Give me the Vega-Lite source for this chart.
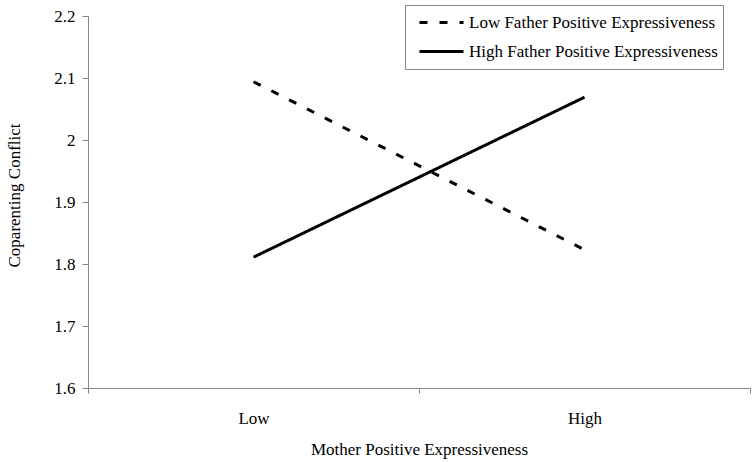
{
  "$schema": "https://vega.github.io/schema/vega-lite/v6.json",
  "width": 662,
  "height": 372,
  "autosize": {"type": "none"},
  "padding": {"left": 88, "top": 16, "right": 2, "bottom": 74},
  "background": "white",
  "config": {
    "view": {"stroke": null},
    "font": "Liberation Serif"
  },
  "data": {
    "values": [
      {"mother": "Low", "father": "Low Father Positive Expressiveness", "conflict": 2.094},
      {"mother": "High", "father": "Low Father Positive Expressiveness", "conflict": 1.823},
      {"mother": "Low", "father": "High Father Positive Expressiveness", "conflict": 1.811},
      {"mother": "High", "father": "High Father Positive Expressiveness", "conflict": 2.069}
    ]
  },
  "mark": {"type": "line", "color": "black", "strokeWidth": 3, "strokeCap": "butt"},
  "encoding": {
    "x": {
      "field": "mother",
      "type": "nominal",
      "sort": ["Low", "High"],
      "bandPosition": 0.5,
      "scale": {"type": "band", "paddingInner": 0, "paddingOuter": 0},
      "axis": {
        "title": "Mother Positive Expressiveness",
        "labelAngle": 0,
        "tickBand": "extent",
        "grid": false,
        "domainColor": "#868686",
        "tickColor": "#868686",
        "tickSize": 5,
        "labelFont": "Liberation Serif",
        "labelFontSize": 17,
        "labelColor": "black",
        "labelBaseline": "alphabetic",
        "labelPadding": 30,
        "titleFont": "Liberation Serif",
        "titleFontSize": 17,
        "titleFontWeight": "normal",
        "titleColor": "black",
        "titleBaseline": "alphabetic",
        "titleY": 66
      }
    },
    "y": {
      "field": "conflict",
      "type": "quantitative",
      "scale": {"domain": [1.6, 2.2], "nice": false, "zero": false},
      "axis": {
        "title": "Coparenting Conflict",
        "values": [1.6, 1.7, 1.8, 1.9, 2.0, 2.1, 2.2],
        "format": "~g",
        "grid": false,
        "domainColor": "#868686",
        "tickColor": "#868686",
        "tickSize": 6,
        "labelPadding": 7,
        "labelFont": "Liberation Serif",
        "labelFontSize": 17,
        "labelColor": "black",
        "titleFont": "Liberation Serif",
        "titleFontSize": 17,
        "titleFontWeight": "normal",
        "titleColor": "black",
        "titleBaseline": "middle",
        "titleX": -74,
        "titleY": 179
      }
    },
    "strokeDash": {
      "field": "father",
      "type": "nominal",
      "scale": {
        "domain": ["Low Father Positive Expressiveness", "High Father Positive Expressiveness"],
        "range": [[8, 12], [1, 0]]
      },
      "legend": {
        "title": null,
        "orient": "none",
        "legendX": 317,
        "legendY": -11,
        "fillColor": "white",
        "strokeColor": "#868686",
        "padding": 5,
        "symbolType": "stroke",
        "symbolSize": 1936,
        "symbolStrokeWidth": 3,
        "symbolStrokeColor": "black",
        "symbolOffset": 8,
        "clipHeight": 25,
        "rowPadding": 4,
        "labelOffset": 4,
        "labelFont": "Liberation Serif",
        "labelFontSize": 17,
        "labelColor": "black",
        "labelLimit": 400
      }
    }
  }
}
